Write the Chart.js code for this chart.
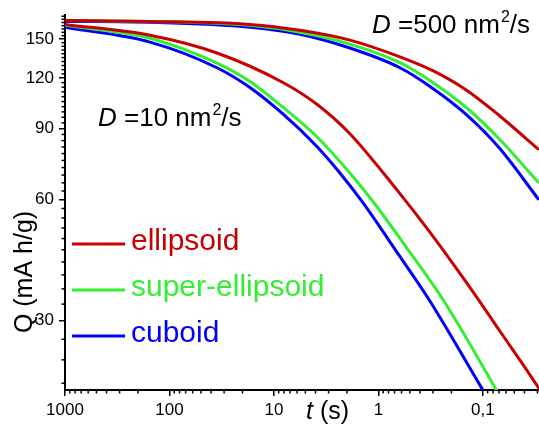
<!DOCTYPE html>
<html>
<head>
<meta charset="utf-8">
<script src="https://cdn.jsdelivr.net/npm/chart.js@4.4.1/dist/chart.umd.min.js"></script>
<style>
  html, body { margin: 0; padding: 0; background: #fff; }
  #wrap { width: 539px; height: 427px; position: relative; }
</style>
</head>
<body>
<div id="wrap"><canvas id="chart"></canvas></div>
<script>
// axis ticks
const xTicks = [1000, 100, 10, 1, 0.1];
const xTickLabels = ['1000', '100', '10', '1', '0,1'];
const yTicks = [30, 60, 90, 120, 150];
const yTickLabels = ['30', '60', '90', '120', '150'];

const seriesNames = ['ellipsoid', 'super-ellipsoid', 'cuboid'];
const seriesColors = ['#C80000', '#33EE33', '#0000FF'];

// D = 500 nm^2/s  (t in s, Q in mA h/g)
const tEll500 = [1000, 153.7, 16.97, 5.64, 1.874, 0.622, 0.301, 0.142, 0.0688, 0.0291];
const qEll500 = [166.9, 166.0, 163.2, 157.8, 149.2, 135.6, 125.3, 111.9, 96.7, 79.8];
const tSup500 = [1000, 153.7, 16.97, 5.64, 1.874, 0.622, 0.301, 0.142, 0.0688, 0.0291];
const qSup500 = [166.9, 166.0, 162.3, 156.0, 145.8, 131.1, 117.1, 101.2, 84.5, 65.9];
const tCub500 = [1000, 153.7, 16.97, 5.64, 1.874, 0.622, 0.301, 0.142, 0.0688, 0.0291];
const qCub500 = [166.0, 165.1, 160.5, 154.3, 142.6, 127.4, 113.2, 97.2, 80.3, 59.9];

// D = 10 nm^2/s
const tEll10 = [1000, 153.7, 35.1, 8.20, 3.88, 1.874, 0.665, 0.3215, 0.1455, 0.0688, 0.0291, 0.0255];
const qEll10 = [163.2, 153.4, 138.6, 117.1, 103.4, 87.4, 63.4, 49.8, 37.5, 28.3, 20.4, 19.3];
const tSup10 = [1000, 153.7, 35.1, 16.97, 8.20, 3.88, 1.874, 1.104, 0.4995, 0.236, 0.0735, 0.0644];
const qSup10 = [162.3, 150.8, 130.8, 117.8, 101.7, 85.9, 69.8, 58.9, 44.4, 33.6, 20.1, 18.9];
const tCub10 = [1000, 153.7, 35.1, 16.97, 8.20, 3.88, 2.335, 1.407, 0.665, 0.3215, 0.100, 0.0857];
const qCub10 = [160.5, 147.5, 127.4, 113.8, 97.8, 81.2, 69.8, 58.9, 44.4, 33.6, 20.2, 18.9];

const FONT = '"Liberation Sans", Arial, sans-serif';

function pts(t, q) {
  return t.map((v, i) => ({ x: v, y: q[i] }));
}

function line(t, q, k) {
  return {
    label: seriesNames[k],
    data: pts(t, q),
    borderColor: seriesColors[k],
    borderWidth: 3,
    pointRadius: 0,
    cubicInterpolationMode: 'monotone',
    fill: false
  };
}

// minor ticks, legend and text labels
const extras = {
  id: 'extras',
  afterDraw(chart) {
    const ctx = chart.ctx;
    const xs = chart.scales.x, ys = chart.scales.y;
    const area = chart.chartArea;
    ctx.save();
    ctx.strokeStyle = '#000';
    ctx.lineWidth = 1.5;
    // x minor ticks
    for (let e = -2; e < 3; e++) {
      for (let k = 2; k <= 9; k++) {
        const v = k * Math.pow(10, e);
        if (v < xs.min || v > xs.max) continue;
        const px = xs.getPixelForValue(v);
        ctx.beginPath();
        ctx.moveTo(px, area.bottom);
        ctx.lineTo(px, area.bottom + 3.5);
        ctx.stroke();
      }
    }
    // y minor ticks
    for (let v = 21; v < ys.max; v += 3) {
      if (v % 30 === 0) continue;
      const py = ys.getPixelForValue(v);
      ctx.beginPath();
      ctx.moveTo(area.left, py);
      ctx.lineTo(area.left - 3.5, py);
      ctx.stroke();
    }

    // legend
    const legY = [244, 290, 336];
    ctx.textBaseline = 'middle';
    ctx.textAlign = 'left';
    ctx.font = '30px ' + FONT;
    seriesNames.forEach((n, i) => {
      ctx.strokeStyle = seriesColors[i];
      ctx.lineWidth = 3;
      ctx.beginPath();
      ctx.moveTo(72, legY[i]);
      ctx.lineTo(125, legY[i]);
      ctx.stroke();
      ctx.fillStyle = seriesColors[i];
      ctx.fillText(n, 131, legY[i] - 2);
    });

    // D labels
    function dLabel(x, y, num) {
      ctx.fillStyle = '#000';
      ctx.textBaseline = 'alphabetic';
      ctx.font = 'italic 26px ' + FONT;
      ctx.fillText('D', x, y);
      x += ctx.measureText('D').width;
      ctx.font = '26px ' + FONT;
      const s1 = ' =' + num + ' nm';
      ctx.fillText(s1, x, y);
      x += ctx.measureText(s1).width + 1;
      ctx.font = '16px ' + FONT;
      ctx.fillText('2', x, y - 11);
      x += ctx.measureText('2').width;
      ctx.font = '26px ' + FONT;
      ctx.fillText('/s', x, y);
    }
    dLabel(372, 33, '500');
    dLabel(98, 126, '10');

    // x title
    ctx.textBaseline = 'alphabetic';
    ctx.font = 'italic 25px ' + FONT;
    ctx.fillText('t', 306, 419);
    const tw = ctx.measureText('t').width;
    ctx.font = '25px ' + FONT;
    ctx.fillText(' (s)', 306 + tw, 419);

    // y title
    ctx.save();
    ctx.translate(25, 272);
    ctx.rotate(-Math.PI / 2);
    ctx.textAlign = 'center';
    ctx.textBaseline = 'middle';
    ctx.font = '25px ' + FONT;
    ctx.fillText('Q (mA h/g)', 0, 0);
    ctx.restore();

    ctx.restore();
  }
};

new Chart(document.getElementById('chart'), {
  type: 'line',
  data: {
    datasets: [
      line(tEll500, qEll500, 0),
      line(tSup500, qSup500, 1),
      line(tCub500, qCub500, 2),
      line(tEll10, qEll10, 0),
      line(tSup10, qSup10, 1),
      line(tCub10, qCub10, 2)
    ]
  },
  options: {
    responsive: true,
    maintainAspectRatio: false,
    animation: false,
    layout: { padding: { top: 10, right: 0, left: 0, bottom: 0 } },
    plugins: {
      legend: { display: false },
      tooltip: { enabled: false }
    },
    scales: {
      x: {
        type: 'logarithmic',
        reverse: true,
        min: 0.029,
        max: 1000,
        afterBuildTicks: s => { s.ticks = xTicks.map(v => ({ value: v })); },
        afterFit: s => { s.height = 37; },
        ticks: {
          callback: (v, i) => xTickLabels[i],
          autoSkip: false,
          maxRotation: 0,
          padding: 4,
          color: '#000',
          font: { family: FONT, size: 17 }
        },
        grid: { drawOnChartArea: false, drawTicks: true, tickLength: 6, color: '#000', lineWidth: 1.5 },
        border: { display: true, color: '#000', width: 2 }
      },
      y: {
        type: 'logarithmic',
        min: 20.2,
        max: 172,
        afterBuildTicks: s => { s.ticks = yTicks.map(v => ({ value: v })); },
        afterFit: s => { s.width = 65; },
        ticks: {
          callback: (v, i) => yTickLabels[i],
          padding: 5,
          color: '#000',
          font: { family: FONT, size: 17 }
        },
        grid: { drawOnChartArea: false, drawTicks: true, tickLength: 6, color: '#000', lineWidth: 1.5 },
        border: { display: true, color: '#000', width: 2 }
      }
    }
  },
  plugins: [extras]
});
</script>
</body>
</html>
